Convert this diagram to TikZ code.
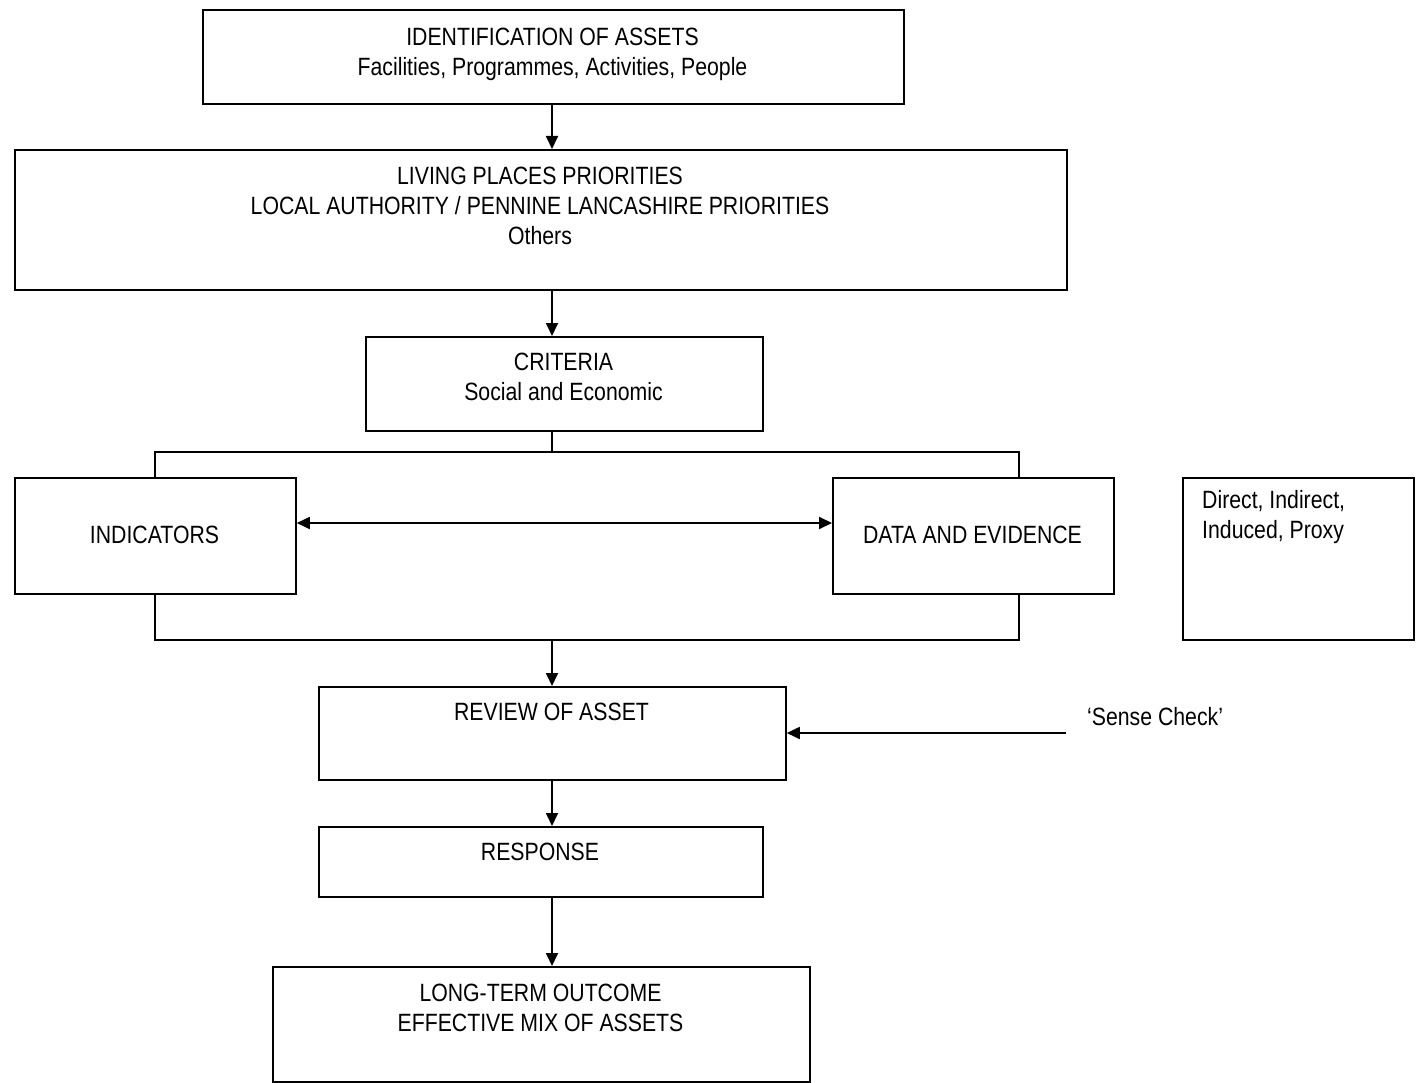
\documentclass[tikz,border=0pt]{standalone}
\usepackage{fontspec}
\setmainfont{Liberation Sans}[FakeStretch=0.85]
\usetikzlibrary{arrows.meta}
\begin{document}
\begin{tikzpicture}[x=1pt,y=-1pt,
  box/.style={draw, line width=1.8pt, inner sep=0pt, anchor=north west},
  txt/.style={inner sep=0pt, anchor=north, align=center, font=\fontsize{25}{30}\selectfont},
  ln/.style={line width=1.8pt},
  arr/.style={line width=1.8pt, -{Triangle[length=13pt,width=12pt]}},
  arrtwo/.style={line width=1.8pt, {Triangle[length=13pt,width=12pt]}-{Triangle[length=13pt,width=12pt]}}]
\useasboundingbox (0,0) rectangle (1416,1083);
% boxes
\node[box, minimum width=701pt, minimum height=94pt] (b1) at (202,9) {};
\node[box, minimum width=1052pt, minimum height=140pt] (b2) at (14,149) {};
\node[box, minimum width=397pt, minimum height=94pt] (b3) at (365,336) {};
\node[box, minimum width=281pt, minimum height=116pt] (ind) at (14,477) {};
\node[box, minimum width=281pt, minimum height=116pt] (dat) at (832,477) {};
\node[box, minimum width=231pt, minimum height=162pt] (dir) at (1182,477) {};
\node[box, minimum width=467pt, minimum height=93pt] (rev) at (318,686) {};
\node[box, minimum width=444pt, minimum height=70pt] (resp) at (318,826) {};
\node[box, minimum width=537pt, minimum height=115pt] (out) at (272,966) {};
% texts
\node[txt] (t1) at (552.5,28) {IDENTIFICATION OF ASSETS\\Facilities, Programmes, Activities, People};
\node[txt] (t2) at (540,167) {LIVING PLACES PRIORITIES\\LOCAL AUTHORITY / PENNINE LANCASHIRE PRIORITIES\\Others};
\node[txt] (t3) at (563.5,353) {CRITERIA\\Social and Economic};
\node[txt] (t4) at (154.5,526) {INDICATORS};
\node[txt] (t5) at (972.5,526) {DATA AND EVIDENCE};
\node[txt, anchor=north west, align=left] (t6) at (1202,490) {Direct, Indirect,\\Induced, Proxy};
\node[txt] (t7) at (551.5,703) {REVIEW OF ASSET};
\node[txt] (t8) at (540,843) {RESPONSE};
\node[txt] (t9) at (540.5,984) {LONG-TERM OUTCOME\\EFFECTIVE MIX OF ASSETS};
\node[txt, anchor=north west] (sc) at (1087,707) {‘Sense Check’};
% coordinates
\coordinate (ax) at (552,0);
\coordinate (ltop) at (155,452);
\coordinate (rtop) at (1019,452);
\coordinate (lbot) at (155,640);
\coordinate (rbot) at (1019,640);
\coordinate (mid) at (0,523);
\coordinate (scs) at (1066,733);
% connectors
\draw[arr] (b1.south -| ax) -- (b2.north -| ax);
\draw[arr] (b2.south -| ax) -- (b3.north -| ax);
\draw[ln] (b3.south -| ax) -- (ax |- ltop);
\draw[ln] (ind.north -| ltop) -- (ltop) -- (rtop) -- (dat.north -| rtop);
\draw[ln] (ind.south -| lbot) -- (lbot) -- (rbot) -- (dat.south -| rbot);
\draw[arrtwo] (ind.east |- mid) -- (dat.west |- mid);
\draw[arr] (ax |- lbot) -- (rev.north -| ax);
\draw[arr] (scs) -- (scs -| rev.east);
\draw[arr] (rev.south -| ax) -- (resp.north -| ax);
\draw[arr] (resp.south -| ax) -- (out.north -| ax);
\end{tikzpicture}
\end{document}
